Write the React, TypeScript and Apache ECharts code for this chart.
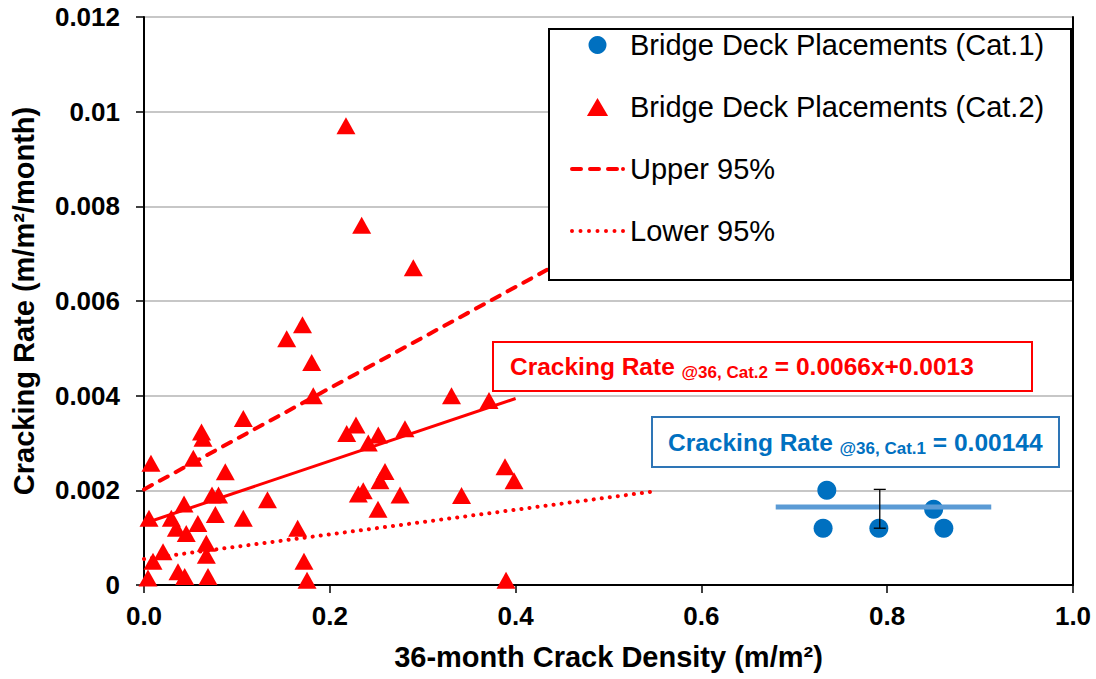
import React, { useEffect, useRef } from 'react';
import * as echarts from 'echarts';

const FONT = '"Liberation Sans", Arial, Helvetica, sans-serif';

// ---- Data ----
const CAT1_NAME = 'Bridge Deck Placements (Cat.1)';
const CAT2_NAME = 'Bridge Deck Placements (Cat.2)';
const UPPER_NAME = 'Upper 95%';
const LOWER_NAME = 'Lower 95%';

const cat1X = [0.735, 0.731, 0.791, 0.85, 0.861];
const cat1Y = [0.002, 0.0012, 0.0012, 0.0016, 0.0012];

const cat2X = [
  0.2174, 0.2343, 0.2899, 0.1706, 0.1536, 0.1805, 0.1822, 0.1069, 0.0619, 0.0635,
  0.0531, 0.0075, 0.0875, 0.0732, 0.0802, 0.0431, 0.0054, 0.0294, 0.0768, 0.058,
  0.0348, 0.0455, 0.0671, 0.0671, 0.0205, 0.0097, 0.0043, 0.0366, 0.0438, 0.0689,
  0.1329, 0.1069, 0.1654, 0.1722, 0.1755, 0.2182, 0.2282, 0.2522, 0.2414, 0.2594,
  0.254, 0.2307, 0.236, 0.2519, 0.2756, 0.2809, 0.331, 0.3714, 0.3418, 0.3886,
  0.3983, 0.3897,
];
const cat2Y = [
  0.0097, 0.0076, 0.0067, 0.0055, 0.0052, 0.0047, 0.004, 0.00352, 0.00323, 0.0031,
  0.00268, 0.00257, 0.00239, 0.0019, 0.0019, 0.00171, 0.00141, 0.00141, 0.00149, 0.0013,
  0.0012, 0.00109, 0.00088, 0.00063, 0.0007, 0.0005, 0.00015, 0.00028, 0.00018, 0.00018,
  0.0018, 0.00141, 0.0012, 0.0005, 0.0001, 0.0032, 0.00338, 0.00317, 0.003, 0.0024,
  0.0022, 0.00192, 0.00199, 0.0016, 0.0019, 0.0033, 0.004, 0.0039, 0.00189, 0.0025,
  0.0022, 0.0001,
];

const upperX = [0, 0.55];
const upperY = [0.00202, 0.0079];
const lowerX = [0, 0.55];
const lowerY = [0.00055, 0.00198];
const fitX = [0, 0.4];
const fitY = [0.0013, 0.00394];
const meanX = [0.68, 0.912];
const meanY = [0.00165, 0.00165];
const errX = [0.792];
const errLow = [0.0012];
const errHigh = [0.00202];

const xTicks = [0, 0.2, 0.4, 0.6, 0.8, 1.0];
const yTicks = [0, 0.002, 0.004, 0.006, 0.008, 0.01, 0.012];

const zip = (a: number[], b: number[]) => a.map((v, i) => [v, b[i]]);

// legend icon shapes (dashed and dotted line samples)
const DASH_ICON =
  'path://M2,0h9a2,2 0 0,1 0,4h-9a2,2 0 0,1 0,-4z' +
  'M20,0h9a2,2 0 0,1 0,4h-9a2,2 0 0,1 0,-4z' +
  'M38,0h9a2,2 0 0,1 0,4h-9a2,2 0 0,1 0,-4z' +
  'M53,0a2,2 0 0,1 0,4a2,2 0 0,1 0,-4z';
const DOT_ICON = (() => {
  let d = 'path://';
  for (let i = 0; i < 7; i++) {
    const cx = 2 + i * 8.5;
    d += `M${cx - 2},2a2,2 0 1,0 4,0a2,2 0 1,0 -4,0z`;
  }
  return d;
})();

export default function App() {
  const ref = useRef<HTMLDivElement>(null);
  useEffect(() => {
    const chart = echarts.init(ref.current!, null, { renderer: 'svg' });
    const axisText = { fontFamily: FONT, fontSize: 26, fontWeight: 'bold' as const, color: '#000' };
    const option: any = {
      animation: false,
      backgroundColor: '#fff',
      grid: { left: 144, right: 23, top: 17, bottom: 94, containLabel: false },
      xAxis: {
        type: 'value',
        min: xTicks[0],
        max: xTicks[xTicks.length - 1],
        interval: 0.2,
        name: '36-month Crack Density (m/m²)',
        nameLocation: 'middle',
        nameGap: 57,
        nameTextStyle: { ...axisText, fontSize: 29 },
        axisLine: { show: true, onZero: false, lineStyle: { color: '#000', width: 2 } },
        axisTick: { show: true, inside: false, length: 8, lineStyle: { color: '#000', width: 1.5 } },
        axisLabel: { ...axisText, margin: 18, formatter: (v: number) => v.toFixed(1) },
        splitLine: { show: false },
      },
      yAxis: [
        {
          type: 'value',
          min: yTicks[0],
          max: yTicks[yTicks.length - 1],
          interval: 0.002,
          name: 'Cracking Rate (m/m²/month)',
          nameLocation: 'middle',
          nameGap: 106,
          nameTextStyle: { ...axisText, fontSize: 29 },
          axisLine: { show: true, onZero: false, lineStyle: { color: '#000', width: 2 } },
          axisTick: { show: true, inside: false, length: 8, lineStyle: { color: '#000', width: 1.5 } },
          axisLabel: { ...axisText, margin: 24, formatter: (v: number) => String(+v.toFixed(3)) },
          splitLine: { show: true, lineStyle: { color: '#b4b4b4', width: 1.5 } },
        },
        {
          type: 'value',
          position: 'right',
          min: 0,
          max: 0.012,
          interval: 0.002,
          axisLine: { show: true, onZero: false, lineStyle: { color: '#000', width: 2 } },
          axisTick: { show: false },
          axisLabel: { show: false },
          splitLine: { show: false },
        },
      ],
      legend: {
        orient: 'vertical',
        left: 570,
        top: 30,
        padding: 0,
        itemWidth: 55,
        itemHeight: 18,
        itemGap: 32,
        z: 10,
        selectedMode: false,
        symbolKeepAspect: true,
        textStyle: { fontFamily: FONT, fontSize: 29, color: '#000', lineHeight: 30 },
        data: [
          { name: CAT1_NAME, icon: 'circle' },
          { name: CAT2_NAME, icon: 'path://M0,17L10,0L20,17Z' },
          { name: UPPER_NAME, icon: DASH_ICON, itemStyle: { color: '#FF0000' } },
          { name: LOWER_NAME, icon: DOT_ICON, itemStyle: { color: '#FF0000' } },
        ],
      },
      graphic: [
        {
          type: 'rect',
          z: 8,
          shape: { x: 549, y: 29, width: 522, height: 251 },
          style: { fill: '#fff', stroke: '#000', lineWidth: 2 },
        },
        {
          type: 'rect',
          z: 8,
          shape: { x: 493, y: 342, width: 539, height: 49 },
          style: { fill: '#fff', stroke: '#FF0000', lineWidth: 2 },
        },
        {
          type: 'text',
          z: 9,
          x: 510,
          y: 366,
          style: {
            text: '{m|Cracking Rate }{s|@36, Cat.2}{m| = 0.0066x+0.0013}',
            verticalAlign: 'middle',
            rich: {
              m: { fontFamily: FONT, fontSize: 24.5, fontWeight: 'bold', fill: '#FF0000', lineHeight: 30 },
              s: { fontFamily: FONT, fontSize: 17, fontWeight: 'bold', fill: '#FF0000', lineHeight: 14, verticalAlign: 'bottom' },
            },
          },
        },
        {
          type: 'rect',
          z: 8,
          shape: { x: 652, y: 417, width: 407, height: 50 },
          style: { fill: '#fff', stroke: '#2E75B6', lineWidth: 2 },
        },
        {
          type: 'text',
          z: 9,
          x: 668,
          y: 442,
          style: {
            text: '{m|Cracking Rate }{s|@36, Cat.1}{m| = 0.00144}',
            verticalAlign: 'middle',
            rich: {
              m: { fontFamily: FONT, fontSize: 24.5, fontWeight: 'bold', fill: '#0070C0', lineHeight: 30 },
              s: { fontFamily: FONT, fontSize: 17, fontWeight: 'bold', fill: '#0070C0', lineHeight: 14, verticalAlign: 'bottom' },
            },
          },
        },
      ],
      series: [
        {
          name: CAT2_NAME,
          type: 'scatter',
          symbol: 'triangle',
          symbolSize: [19, 17],
          itemStyle: { color: '#FF0000', opacity: 1 },
          data: zip(cat2X, cat2Y),
          z: 2,
        },
        {
          name: CAT1_NAME,
          type: 'scatter',
          symbol: 'circle',
          symbolSize: 19,
          itemStyle: { color: '#0070C0', opacity: 1 },
          data: zip(cat1X, cat1Y),
          z: 2,
        },
        {
          name: UPPER_NAME,
          type: 'line',
          symbol: 'none',
          showSymbol: false,
          color: '#FF0000',
          lineStyle: { color: '#FF0000', width: 4, type: [9, 9], cap: 'round' },
          data: zip(upperX, upperY),
          z: 3,
        },
        {
          name: LOWER_NAME,
          type: 'line',
          symbol: 'none',
          showSymbol: false,
          color: '#FF0000',
          lineStyle: { color: '#FF0000', width: 4, type: [0.1, 8], cap: 'round' },
          data: zip(lowerX, lowerY),
          z: 3,
        },
        {
          name: 'Linear fit (Cat.2)',
          type: 'line',
          symbol: 'none',
          lineStyle: { color: '#FF0000', width: 3 },
          data: zip(fitX, fitY),
          z: 3,
        },
        {
          name: 'Mean (Cat.1)',
          type: 'line',
          symbol: 'none',
          lineStyle: { color: '#5B9BD5', width: 5 },
          data: zip(meanX, meanY),
          z: 3,
        },
        {
          name: 'Error bar (Cat.1)',
          type: 'custom',
          z: 4,
          encode: { x: 0, y: [1, 2] },
          data: errX.map((x, i) => [x, errLow[i], errHigh[i]]),
          renderItem: (params: any, api: any) => {
            const x = api.value(0);
            const lo = api.coord([x, api.value(1)]);
            const hi = api.coord([x, api.value(2)]);
            const cap = 6;
            const style = { stroke: '#000', lineWidth: 1.3 };
            return {
              type: 'group',
              children: [
                { type: 'line', shape: { x1: hi[0], y1: hi[1], x2: lo[0], y2: lo[1] }, style },
                { type: 'line', shape: { x1: hi[0] - cap, y1: hi[1], x2: hi[0] + cap, y2: hi[1] }, style },
                { type: 'line', shape: { x1: lo[0] - cap, y1: lo[1], x2: lo[0] + cap, y2: lo[1] }, style },
              ],
            };
          },
        },
      ],
    };
    chart.setOption(option);
    return () => chart.dispose();
  }, []);
  return (
    <div
      ref={ref}
      style={{ position: 'absolute', left: 0, top: 0, width: 1096, height: 679 }}
    />
  );
}
